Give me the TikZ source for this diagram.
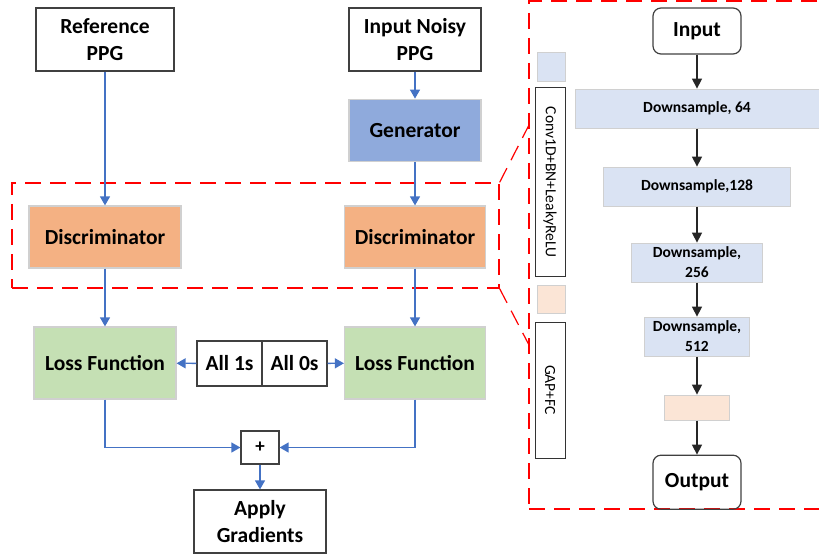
\documentclass[tikz,border=0pt]{standalone}
\usepackage{fontspec}
\setmainfont{Carlito}
\usepackage{xcolor}
\usepackage{tikz}
\usetikzlibrary{calc}
\usetikzlibrary{positioning}
\usetikzlibrary{arrows.meta}

\definecolor{genblue}{HTML}{8FAADC}
\definecolor{discorange}{HTML}{F4B183}
\definecolor{lossgreen}{HTML}{C5E0B4}
\definecolor{dsblue}{HTML}{DAE3F3}
\definecolor{fcpeach}{HTML}{FBE5D6}
\definecolor{flowblue}{HTML}{4472C4}
\definecolor{boxgrey}{HTML}{D0D0D0}

\newcommand{\bigfont}{\fontsize{21.5}{27}\selectfont\bfseries}
\newcommand{\smallfont}{\fontsize{15.5}{20}\selectfont}

\begin{document}
\begin{tikzpicture}[x=1pt,y=-1pt,
      io style/.style={rectangle,draw=black!75,line width=1.2pt,align=center,
        font=\bigfont,inner sep=2pt},
      gan style/.style={rectangle,draw=boxgrey,line width=1.2pt,align=center,
        font=\bigfont,inner sep=2pt},
      end style/.style={io style,rounded corners=8pt},
      ds style/.style={rectangle,fill=dsblue,draw=boxgrey,line width=1pt,
        align=center,font=\smallfont\bfseries,inner sep=1pt,minimum height=39pt},
      key style/.style={rectangle,draw=black!80,line width=1pt,align=center,
        font=\smallfont,inner sep=1pt,rotate=-90,minimum height=30pt},
      zoom style/.style={draw=red,line width=1.2pt,dash pattern=on 16pt off 9pt},
      flow arrow/.style={-{Triangle[width=10pt,length=9pt]},draw=flowblue,line width=1.3pt},
      net arrow/.style={-{Triangle[width=10pt,length=10pt]},draw=black!85,line width=1.5pt}
      ]
      \useasboundingbox (0,0) rectangle (819,556);

      % dashed frames
      \node[zoom style,minimum width=487pt,minimum height=105pt] (discframe) at (255.5,235.5) {};
      \node[zoom style,minimum width=340pt,minimum height=508pt] (netframe) at (699,255) {};
      \coordinate (zoomtop) at (529,125);
      \coordinate (zoombot) at (529,345);
      \draw[zoom style] (discframe.north east) -- (zoomtop);
      \draw[zoom style] (discframe.south east) -- (zoombot);

      % GAN training loop
      \node[io style,minimum width=138pt,minimum height=63pt] (refppg) at (105,39.5) {Reference\\PPG};
      \node[io style,minimum width=132pt,minimum height=63pt] (noisyppg) at (415,39.5) {Input Noisy\\PPG};
      \node[gan style,fill=genblue,minimum width=132pt,minimum height=62pt,below=27pt of noisyppg] (gen) {Generator};

      \node[gan style,fill=discorange,minimum width=152pt,minimum height=62pt] (discref) at (105,237) {Discriminator};
      \node[gan style,fill=discorange,minimum width=141pt,minimum height=62pt] (discgen) at (415,237) {Discriminator};

      \node[gan style,fill=lossgreen,minimum width=142pt,minimum height=72pt] (lossref) at (105,363) {Loss Function};
      \node[gan style,fill=lossgreen,minimum width=141pt,minimum height=72pt] (lossgen) at (415,363) {Loss Function};

      \node[io style,minimum width=65pt,minimum height=45pt] (ones) at (229.5,363.5) {All 1s};
      \node[io style,minimum width=65pt,minimum height=45pt,right=-1.2pt of ones] (zeros) {All 0s};

      \node[io style,font=\fontsize{19}{22}\selectfont\bfseries,minimum width=38pt,minimum height=33pt] (plus) at (260,447.5) {+};
      \node[io style,minimum width=132pt,minimum height=63pt] (apply) at (260,521.5) {Apply\\Gradients};

      \draw[flow arrow] (refppg) -- (discref);
      \draw[flow arrow] (noisyppg) -- (gen);
      \draw[flow arrow] (gen) -- (discgen);
      \draw[flow arrow] (discref) -- (lossref);
      \draw[flow arrow] (discgen) -- (lossgen);
      \draw[flow arrow] (ones) -- (lossref);
      \draw[flow arrow] (zeros) -- (lossgen);
      \draw[flow arrow] (lossref) |- (plus);
      \draw[flow arrow] (lossgen) |- (plus);
      \draw[flow arrow] (plus) -- (apply);

      % legend
      \node[rectangle,fill=dsblue,draw=boxgrey,line width=1pt,minimum width=28pt,minimum height=29pt] (dskey) at (551,67.5) {};
      \node[key style,minimum width=188pt] (convkey) at (550,182) {Conv1D+BN+LeakyReLU};
      \node[rectangle,fill=fcpeach,draw=boxgrey,line width=1pt,minimum width=28pt,minimum height=28pt] (fckey) at (551,299) {};
      \node[key style,minimum width=136pt] (gapkey) at (550,390) {GAP+FC};

      % discriminator network
      \node[end style,minimum width=88pt,minimum height=46pt] (input) at (697,31) {Input};
      \node[ds style,minimum width=244pt,below=34pt of input] (ds64) {Downsample, 64};
      \node[ds style,minimum width=187pt,below=38pt of ds64] (ds128) {Downsample,128};
      \node[ds style,minimum width=131pt,below=36pt of ds128] (ds256) {Downsample,\\256};
      \node[ds style,minimum width=105pt,below=34pt of ds256] (ds512) {Downsample,\\512};
      \node[rectangle,fill=fcpeach,draw=boxgrey,line width=1pt,minimum width=65pt,minimum height=25pt,below=38pt of ds512] (gapfc) {};
      \node[end style,minimum width=88pt,minimum height=54pt,below=34pt of gapfc] (output) {Output};

      \draw[net arrow] (input) -- (ds64);
      \draw[net arrow] (ds64) -- (ds128);
      \draw[net arrow] (ds128) -- (ds256);
      \draw[net arrow] (ds256) -- (ds512);
      \draw[net arrow] (ds512) -- (gapfc);
      \draw[net arrow] (gapfc) -- (output);

    \end{tikzpicture}
\end{document}
